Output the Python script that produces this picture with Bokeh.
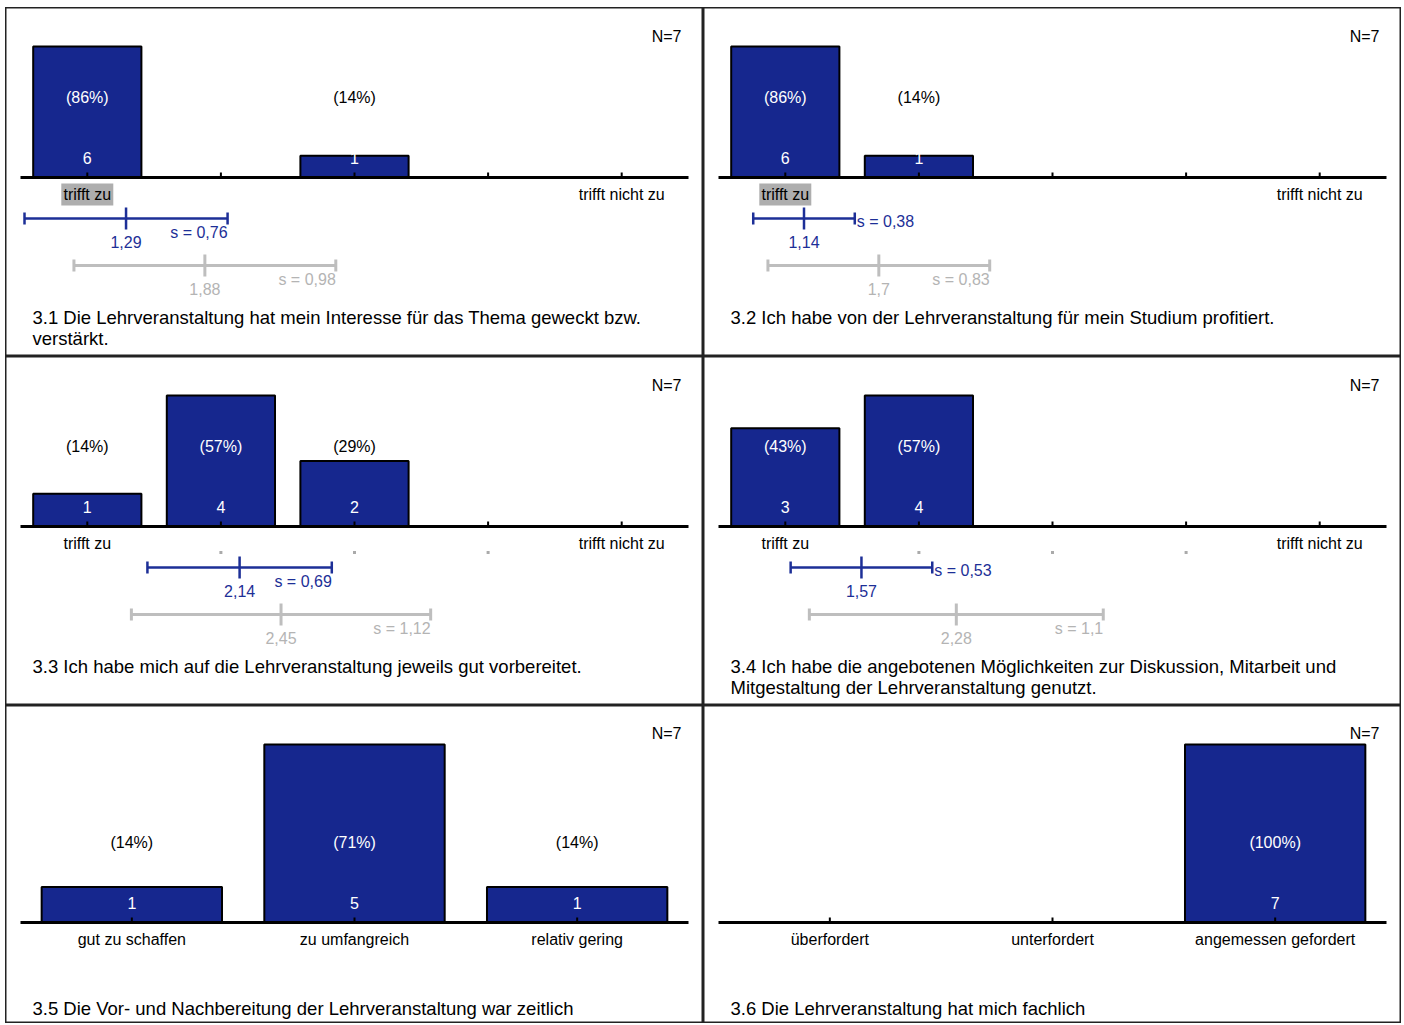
from bokeh.plotting import figure
from bokeh.models import Range1d
from bokeh.layouts import gridplot
from bokeh.embed import file_html
from bokeh.resources import INLINE

# ---------------- data ----------------
N_total = [7, 7, 7, 7, 7, 7]
titles = [
    "3.1 Die Lehrveranstaltung hat mein Interesse für das Thema geweckt bzw.\nverstärkt.",
    "3.2 Ich habe von der Lehrveranstaltung für mein Studium profitiert.",
    "3.3 Ich habe mich auf die Lehrveranstaltung jeweils gut vorbereitet.",
    "3.4 Ich habe die angebotenen Möglichkeiten zur Diskussion, Mitarbeit und\nMitgestaltung der Lehrveranstaltung genutzt.",
    "3.5 Die Vor- und Nachbereitung der Lehrveranstaltung war zeitlich",
    "3.6 Die Lehrveranstaltung hat mich fachlich",
]
cat_labels = [
    ["trifft zu", "", "", "", "trifft nicht zu"],
    ["trifft zu", "", "", "", "trifft nicht zu"],
    ["trifft zu", "", "", "", "trifft nicht zu"],
    ["trifft zu", "", "", "", "trifft nicht zu"],
    ["gut zu schaffen", "zu umfangreich", "relativ gering"],
    ["überfordert", "unterfordert", "angemessen gefordert"],
]
counts = [
    [6, 0, 1, 0, 0],
    [6, 1, 0, 0, 0],
    [1, 4, 2, 0, 0],
    [3, 4, 0, 0, 0],
    [1, 5, 1],
    [0, 0, 7],
]
means = [1.29, 1.14, 2.14, 1.57, None, None]
sds = [0.76, 0.38, 0.69, 0.53, None, None]
cmp_means = [1.88, 1.7, 2.45, 2.28, None, None]
cmp_sds = [0.98, 0.83, 1.12, 1.1, None, None]
empty_label_dots = [False, False, True, True, False, False]

# ---------------- style ----------------
FONT = "Liberation Sans"
BLUE = "#16278E"
EBLUE = "#1D2F97"
GREY = "#BEBEBE"
GREY_T = "#B4B4B4"
HILITE = "#AEAEAE"
W = 698
H_TOP = 349
H_BOT = 318


def fmt(v):
    s = f"{v:.2f}".rstrip("0").rstrip(".")
    return s.replace(".", ",")


def make_panel(i, H, base, barmax, pct_y, cnt_y, lab_y, n_y, title_y):
    cnt = counts[i]
    K = len(cnt)
    step = (W - 30) / K
    xr = Range1d(0.5 - 15 / step, K + 0.5 + 15 / step)
    k = barmax / max(cnt)
    yr = Range1d(-(H - base) / k, base / k)
    p = figure(width=W, height=H, x_range=xr, y_range=yr,
               output_backend="svg", toolbar_location=None,
               x_axis_type=None, y_axis_type=None, min_border=0,
               outline_line_color="#222222", outline_line_width=2,
               background_fill_color="white", border_fill_color="white")
    p.extra_x_ranges = {"px": Range1d(0, W)}
    p.extra_y_ranges = {"py": Range1d(H, 0)}
    p.grid.visible = False

    cats = list(range(1, K + 1))
    tf = dict(text_font={"value": FONT})

    # bars
    xs = [c for c, v in zip(cats, cnt) if v > 0]
    tops = [v for v in cnt if v > 0]
    p.vbar(x=xs, top=tops, bottom=0, width=0.81, fill_color=BLUE,
           line_color="black", line_width=2)
    # axis line + ticks
    p.segment(x0=[0.5], y0=[0], x1=[K + 0.5], y1=[0], line_color="black", line_width=3)
    p.segment(x0=cats, y0=[base] * K, x1=cats, y1=[base - 5] * K,
              y_range_name="py", line_color="black", line_width=2)

    # percent + count labels
    pct_txt = [f"({round(100 * v / N_total[i])}%)" for v in tops]
    pct_col = ["white" if (base - v * k) < pct_y - 8 else "black" for v in tops]
    p.text(x=xs, y=[pct_y] * len(xs), text=pct_txt, text_color=pct_col,
           y_range_name="py", text_align="center", text_baseline="middle",
           text_font_size="16px", **tf)
    p.text(x=xs, y=[cnt_y] * len(xs), text=[str(v) for v in tops], text_color="white",
           y_range_name="py", text_align="center", text_baseline="middle",
           text_font_size="16px", **tf)

    # N label
    p.text(x=[W - 22], y=[n_y], text=[f"N={N_total[i]}"], x_range_name="px",
           y_range_name="py", text_align="right", text_baseline="middle",
           text_font_size="16px", text_color="black", **tf)

    # category labels
    labels = cat_labels[i]
    if means[i] is not None:
        hi = int(round(means[i]))
        if labels[hi - 1]:
            p.rect(x=[hi], y=[lab_y], width=[52], height=[22], width_units="screen",
                   height_units="screen", y_range_name="py", fill_color=HILITE,
                   line_color=None)
    lx = [c for c, l in zip(cats, labels) if l]
    lt = [l for l in labels if l]
    p.text(x=lx, y=[lab_y] * len(lx), text=lt, y_range_name="py",
           text_align="center", text_baseline="middle", text_font_size="16px",
           text_color="black", **tf)
    if empty_label_dots[i]:
        dx = [c for c, l in zip(cats, labels) if not l]
        p.rect(x=dx, y=[lab_y + 9] * len(dx), width=[3] * len(dx), height=[3] * len(dx),
               width_units="screen", height_units="screen", y_range_name="py",
               fill_color="#AAAAAA", line_color=None)

    # error bars
    def ebar(m, s, yb, col, tcol, lw, beside):
        p.segment(x0=[m - s], y0=[yb], x1=[m + s], y1=[yb], y_range_name="py",
                  line_color=col, line_width=lw)
        p.segment(x0=[m - s, m + s], y0=[yb - 6, yb - 6], x1=[m - s, m + s],
                  y1=[yb + 6, yb + 6], y_range_name="py", line_color=col, line_width=lw)
        p.segment(x0=[m], y0=[yb - 11], x1=[m], y1=[yb + 11], y_range_name="py",
                  line_color=col, line_width=lw)
        p.text(x=[m], y=[yb + 23], text=[fmt(m)], y_range_name="py",
               text_align="center", text_baseline="middle", text_font_size="16px",
               text_color=tcol, **tf)
        if beside:
            p.text(x=[m + s], y=[yb + 3], text=["s = " + fmt(s)], y_range_name="py",
                   text_align="left", text_baseline="middle", x_offset=2,
                   text_font_size="16px", text_color=tcol, **tf)
        else:
            p.text(x=[m + s], y=[yb + 14], text=["s = " + fmt(s)], y_range_name="py",
                   text_align="right", text_baseline="middle", text_font_size="16px",
                   text_color=tcol, **tf)

    if means[i] is not None:
        ebar(cmp_means[i], cmp_sds[i], base + 88, GREY, GREY_T, 3, False)
        ebar(means[i], sds[i], base + 41, EBLUE, EBLUE, 2.5, sds[i] < 0.6)

    # title
    p.text(x=[27], y=[title_y], text=[titles[i]], x_range_name="px", y_range_name="py",
           text_align="left", text_baseline="top", text_font_size="18.5px",
           text_line_height=1.03, text_color="black", **tf)
    return p


panels = []
for i in range(4):
    panels.append(make_panel(i, H_TOP, 170, 131, 90, 150, 187, 29, 299))
for i in range(4, 6):
    panels.append(make_panel(i, H_BOT, 217, 178, 137, 197, 234, 28, 292))

grid = gridplot([[panels[0], panels[1]], [panels[2], panels[3]], [panels[4], panels[5]]],
                toolbar_location=None)
grid.margin = (7, 0, 0, 5)

open("out.html", "w").write(file_html(grid, INLINE))
